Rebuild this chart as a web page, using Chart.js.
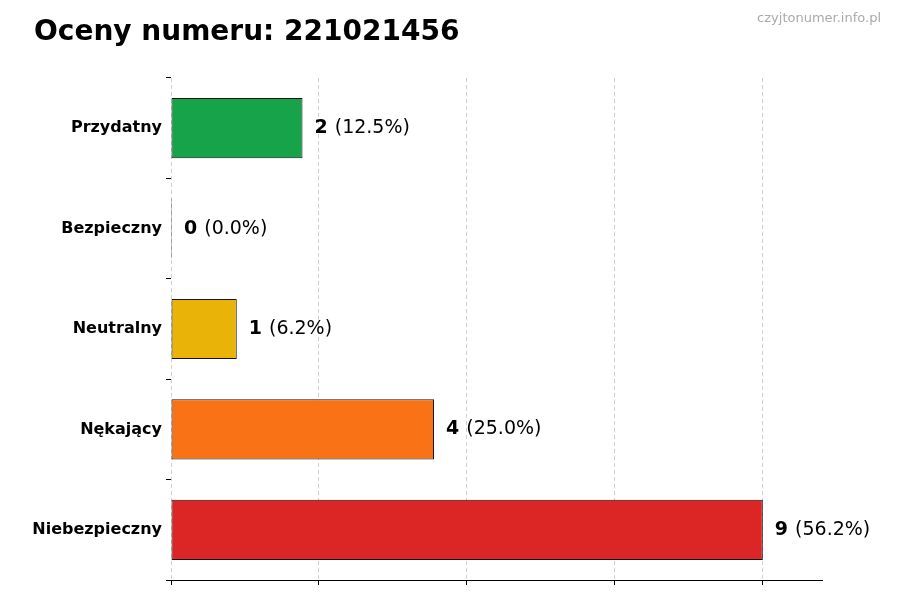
<!DOCTYPE html>
<html><head><meta charset="utf-8">
<script src="https://cdn.jsdelivr.net/npm/chart.js@4/dist/chart.umd.min.js"></script>
<style>html,body{margin:0;padding:0;background:#fff}</style>
</head><body>
<canvas id="c" width="900" height="600"></canvas>
<script>
const categories = ["Przydatny","Bezpieczny","Neutralny","Nękający","Niebezpieczny"];
const values = [2,0,1,4,9];
const percents = ["12.5%","0.0%","6.2%","25.0%","56.2%"];
const colors = ["#16a34a","#22c55e","#eab308","#f97316","#dc2626"];
const xTicks = [0,2.25,4.5,6.75,9];
const titleText = "Oceny numeru: 221021456";
const watermark = "czyjtonumer.info.pl";
const F = "'DejaVu Sans', sans-serif";

const labelPlugin = {
  id:'lbl',
  afterDatasetsDraw(chart){
    const ctx = chart.ctx;
    const meta = chart.getDatasetMeta(0);
    ctx.save();
    ctx.textBaseline='middle';
    meta.data.forEach((bar,i)=>{
      let x = bar.x + 12;
      ctx.font = "bold 19px "+F; ctx.fillStyle='#000';
      const n = String(values[i]);
      ctx.fillText(n, x, bar.y);
      x += ctx.measureText(n).width + 7;
      ctx.font = "19px "+F;
      ctx.fillText("("+percents[i]+")", x, bar.y);
    });
    ctx.font = "bold 28px "+F; ctx.textBaseline='alphabetic';
    ctx.fillText(titleText, 34, 40);
    ctx.font = "13px "+F; ctx.fillStyle='#aaa'; ctx.textAlign='right';
    ctx.fillText(watermark, 881, 22);
    ctx.restore();
  }
};

new Chart(document.getElementById('c'),{
  type:'bar',
  data:{labels:categories,datasets:[{data:values,backgroundColor:colors,borderColor:'#111',borderWidth:1,borderSkipped:false,categoryPercentage:1,barPercentage:0.6,minBarLength:1}]},
  options:{
    indexAxis:'y',responsive:false,animation:false,
    layout:{padding:{top:78,right:78,left:0,bottom:0}},
    plugins:{legend:{display:false},tooltip:{enabled:false}},
    scales:{
      x:{min:0,max:9.9,
        afterBuildTicks(s){s.ticks=xTicks.map(v=>({value:v}));},
        afterFit(s){s.height=20;},
        ticks:{callback:()=>''},
        grid:{color:'#d0d0d0',tickColor:'#000',tickLength:5,lineWidth:1},
        border:{display:true,color:'#000',dash:[4,3]}
      },
      y:{
        afterFit(s){s.width=171;},
        ticks:{color:'#000',font:{family:F,size:16,weight:'bold'},padding:4},
        grid:{drawOnChartArea:false,tickColor:'#000',tickLength:5},
        border:{display:false}
      }
    }
  },
  plugins:[labelPlugin]
});
</script>
</body></html>
